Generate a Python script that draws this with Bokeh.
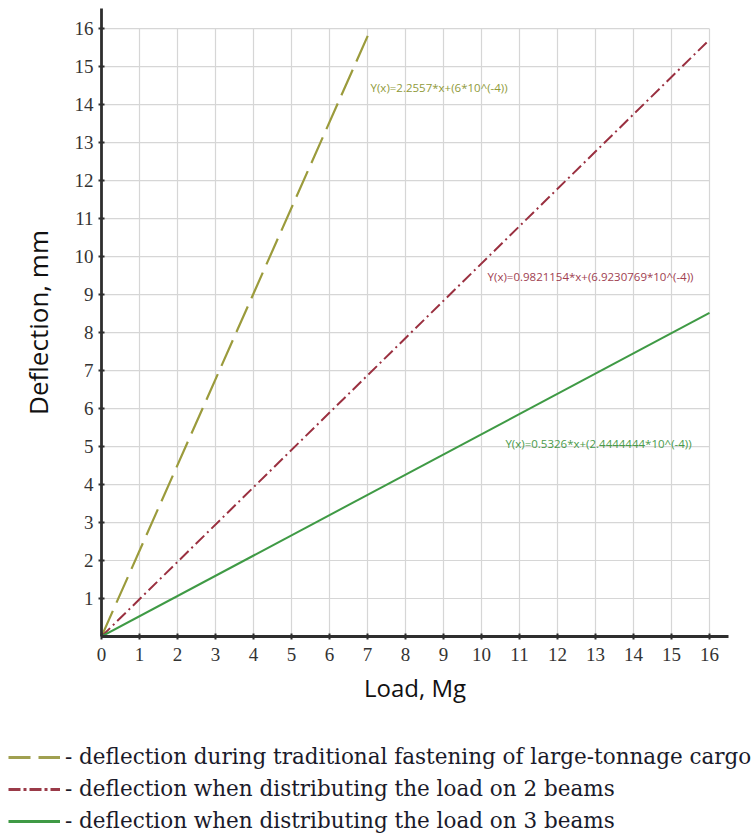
from bokeh.plotting import figure
from bokeh.models import Legend, LegendItem, FixedTicker, ColumnDataSource
from bokeh.core.properties import value
from bokeh.embed import file_html
from bokeh.resources import INLINE

# ---- data ----
load_trad = [0, 7.09]
defl_trad = [0, 16.0]
load_2beams = [0, 16]
defl_2beams = [0, 15.71]
load_3beams = [0, 16]
defl_3beams = [0, 8.52]

x_ticks = list(range(0, 17))
y_ticks = list(range(1, 17))
grid_max = 16

eq_texts = ["Y(x)=2.2557*x+(6*10^(-4))",
            "Y(x)=0.9821154*x+(6.9230769*10^(-4))",
            "Y(x)=0.5326*x+(2.4444444*10^(-4))"]
eq_x = [7.08, 10.16, 10.63]
eq_y = [14.45, 9.47, 5.08]

legend_labels = ["- deflection during traditional fastening of large-tonnage cargo",
                 "- deflection when distributing the load on 2 beams",
                 "- deflection when distributing the load on 3 beams"]

OLIVE = "#9b9b3c"
RED = "#9a3040"
GREEN = "#3f9a45"
AXIS = "#2e2e2e"

p = figure(width=754, height=715, x_range=(0, 16.5), y_range=(0, 16.53),
           output_backend="svg", toolbar_location=None,
           min_border_left=101, min_border_right=26, min_border_top=8,
           min_border_bottom=79)
p.outline_line_color = None
p.xgrid.visible = False
p.ygrid.visible = False

# grid limited to 0..16
gx = [t for t in x_ticks if t > 0]
p.segment(x0=gx, y0=[0]*len(gx), x1=gx, y1=[grid_max]*len(gx),
          line_color="#d6d6d6", line_width=1.2)
p.segment(x0=[0]*len(y_ticks), y0=y_ticks, x1=[grid_max]*len(y_ticks), y1=y_ticks,
          line_color="#d6d6d6", line_width=1.2)

r1 = p.line(load_trad, defl_trad, line_color=OLIVE, line_width=2.2, line_dash="28 9")
r2 = p.line(load_2beams, defl_2beams, line_color=RED, line_width=2, line_dash="12 4 2 4")
r3 = p.line(load_3beams, defl_3beams, line_color=GREEN, line_width=2)

src = ColumnDataSource(dict(x=eq_x, y=eq_y, t=eq_texts,
                            c=["#8f9a3a", "#a04050", "#4a9a4a"]))
p.text(x="x", y="y", text="t", source=src, text_color="c",
       text_font=value("Open Sans"), text_font_size="11.5px",
       text_baseline="middle", text_align="left")

for ax in (p.xaxis[0], p.yaxis[0]):
    ax.axis_line_color = AXIS
    ax.axis_line_width = 2.8
    ax.major_tick_line_color = AXIS
    ax.major_tick_line_width = 2
    ax.major_tick_in = 3
    ax.major_tick_out = 3
    ax.minor_tick_line_color = None
    ax.major_label_text_font = "Liberation Serif"
    ax.major_label_text_font_size = "19px"
    ax.major_label_text_color = "#333333"
    ax.axis_label_text_font = "Open Sans"
    ax.axis_label_text_font_style = "normal"
    ax.axis_label_text_color = "#111111"

p.xaxis.ticker = FixedTicker(ticks=x_ticks)
p.yaxis.ticker = FixedTicker(ticks=y_ticks)
p.xaxis.axis_label = "Load, Mg"
p.yaxis.axis_label = "Deflection, mm"
p.xaxis.axis_label_text_font_size = "24px"
p.yaxis.axis_label_text_font_size = "26px"
p.xaxis.major_label_standoff = 8
p.yaxis.major_label_standoff = 5
p.xaxis.axis_label_standoff = 7
p.yaxis.axis_label_standoff = 16

# ---- legend strip below the chart ----
q = figure(width=754, height=118, x_range=(0, 1), y_range=(0, 1),
           output_backend="svg", toolbar_location=None,
           min_border_left=0, min_border_right=0,
           min_border_top=0, min_border_bottom=0)
q.axis.visible = False
q.grid.visible = False
q.outline_line_color = None
nan = float("nan")
l1 = q.line([nan], [nan], line_color="#a0a050", line_width=3, line_dash="22 8")
l2 = q.line([nan], [nan], line_color="#9a3a48", line_width=3, line_dash="12 3 3 3")
l3 = q.line([nan], [nan], line_color="#3f9a45", line_width=3)
leg = Legend(items=[LegendItem(label=legend_labels[0], renderers=[l1]),
                    LegendItem(label=legend_labels[1], renderers=[l2]),
                    LegendItem(label=legend_labels[2], renderers=[l3])],
             location=(8, 0), padding=0, margin=0,
             border_line_color=None, background_fill_alpha=0,
             glyph_width=52, glyph_height=22, label_height=22,
             label_standoff=5, spacing=7,
             label_text_font="DejaVu Serif", label_text_font_size="21.5px",
             label_text_color="#1a1a2a")
q.add_layout(leg)

open("out.html", "w").write(file_html([p, q], INLINE))
